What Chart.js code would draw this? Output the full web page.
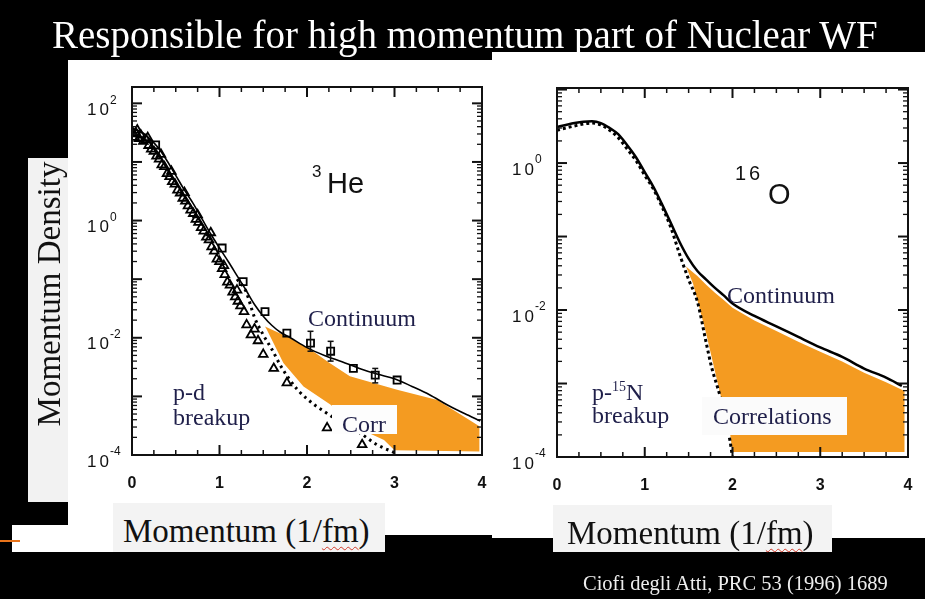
<!DOCTYPE html>
<html>
<head>
<meta charset="utf-8">
<script src="https://cdn.jsdelivr.net/npm/chart.js@4.4.0/dist/chart.umd.min.js"></script>
<style>
  body { margin: 0; background: #000; width: 925px; height: 599px; overflow: hidden; position: relative;
         font-family: "Liberation Serif", "Times New Roman", serif; }
  .abs { position: absolute; white-space: nowrap; line-height: 1; z-index: 3; }
  .lbl { color: #1f1f4a; font-size: 24px; }
  .sans { font-family: "Liberation Sans", Arial, sans-serif; color: #111; }
  .box { position: absolute; z-index: 2; }
  .plot { position: absolute; z-index: 1; }
  canvas { background: #fff; display: block; }
  .wavy { text-decoration: underline wavy #d23a2a; text-decoration-thickness: 1px; text-underline-offset: 4px; }
</style>
</head>
<body>

<div class="abs" style="left:52px; top:15px; font-size:39px; color:#fff;">Responsible for high momentum part of Nuclear WF</div>

<!-- y axis title -->
<div class="box" style="left:28px; top:158px; width:40px; height:344px; background:#f2f2f2;"></div>
<div class="abs" style="left:-101px; top:274px; width:300px; height:40px; line-height:40px; text-align:center;
     font-size:33px; color:#111; transform:rotate(-90deg);">Momentum Density</div>

<!-- small white block + orange mark, bottom left -->
<div class="box" style="left:12px; top:525px; width:101px; height:27px; background:#fff;"></div>
<div class="box" style="left:0px; top:540px; width:20px; height:2px; background:#e8731a;"></div>

<div class="plot" style="left:68px; top:60px;"><canvas id="heChart" width="424" height="475"></canvas></div>
<div class="plot" style="left:492px; top:52px;"><canvas id="oChart" width="433" height="486"></canvas></div>

<!-- x axis titles -->
<div class="box" style="left:113px; top:503px; width:272px; height:49px; background:#f3f3f3;"></div>
<div class="abs" style="left:123px; top:515px; font-size:33px; color:#111;">Momentum (1/<span class="wavy">fm</span>)</div>
<div class="box" style="left:553px; top:505px; width:279px; height:47px; background:#f3f3f3;"></div>
<div class="abs" style="left:567px; top:517px; font-size:33px; color:#111;">Momentum (1/<span class="wavy">fm</span>)</div>

<!-- 3He labels -->
<div class="abs sans" style="left:312px; top:163px; font-size:17px;">3</div>
<div class="abs sans" style="left:327px; top:169px; font-size:29px;">He</div>
<div class="abs lbl" style="left:308px; top:306px;">Continuum</div>
<div class="abs lbl" style="left:173px; top:380px;">p-d</div>
<div class="abs lbl" style="left:173px; top:405px;">breakup</div>
<div class="box" style="left:332px; top:405px; width:65px; height:29px; background:#fdfdfd;"></div>
<div class="abs lbl" style="left:342px; top:412px;">Corr</div>

<!-- 16O labels -->
<div class="abs sans" style="left:735px; top:163px; font-size:20px; letter-spacing:3px;">16</div>
<div class="abs sans" style="left:768px; top:180px; font-size:29px;">O</div>
<div class="abs lbl" style="left:727px; top:283px;">Continuum</div>
<div class="abs lbl" style="left:592px; top:380px;">p-<span style="font-size:14px; position:relative; top:-9px;">15</span>N</div>
<div class="abs lbl" style="left:592px; top:403px;">breakup</div>
<div class="box" style="left:702px; top:397px; width:145px; height:38px; background:#fbfbfb;"></div>
<div class="abs lbl" style="left:713px; top:404px;">Correlations</div>

<div class="abs" style="left:583px; top:573px; font-size:20.5px; color:#eee;">Ciofi degli Atti, PRC 53 (1996) 1689</div>

<script>
// ---- 3He panel ----
var heLineX = [0, 0.1, 0.2, 0.3, 0.4, 0.5, 0.6, 0.7, 0.8, 0.9, 1.0, 1.1, 1.2, 1.3, 1.4, 1.5, 1.6, 1.7, 1.8, 2.0, 2.2, 2.4, 2.6, 2.8, 3.0, 3.2, 3.4, 3.6, 3.8, 3.98];
var heLineY = [37, 33, 25, 17.5, 10.5, 5.9, 3.3, 1.95, 1.07, 0.59, 0.34, 0.2, 0.115, 0.066, 0.037, 0.0234, 0.0162, 0.0123, 0.0102, 0.0068, 0.005, 0.0039, 0.003, 0.0024, 0.002, 0.00148, 0.00107, 0.00072, 0.00051, 0.00038];

var heDotX = [1.2, 1.3, 1.4, 1.5, 1.6, 1.7, 1.8, 1.9, 2.0, 2.1, 2.2, 2.4, 2.6, 2.8, 3.0];
var heDotY = [0.1, 0.063, 0.0224, 0.0112, 0.0063, 0.0033, 0.00195, 0.00126, 0.00091, 0.00069, 0.00055, 0.00035, 0.00024, 0.00015, 0.00011];

var heSquareX = [0.27, 1.03, 1.27, 1.52, 1.77, 2.04, 2.27, 2.53, 2.78, 3.03];
var heSquareY = [19.5, 0.34, 0.091, 0.028, 0.012, 0.0081, 0.0059, 0.0030, 0.0023, 0.0019];
var heErrLow  = [null, null, null, null, null, 0.0059, 0.0040, null, 0.0017, null];
var heErrHigh = [null, null, null, null, null, 0.0129, 0.0087, null, 0.0030, null];

var heTriX = [0.01, 0.03, 0.05, 0.08, 0.10, 0.13, 0.16, 0.19, 0.22, 0.25, 0.28, 0.31, 0.34, 0.37, 0.40, 0.43, 0.46, 0.49,
              0.52, 0.55, 0.58, 0.61, 0.64, 0.67, 0.70, 0.73, 0.76, 0.79, 0.82, 0.85, 0.88, 0.91, 0.94, 0.97, 1.00, 1.03,
              1.06, 1.09, 1.12, 1.15, 1.18, 1.21, 1.24, 1.28, 1.31, 1.36, 1.40, 1.44, 1.50, 1.62, 1.77, 2.23, 2.63,
              0.06, 0.18, 0.33, 0.45, 0.60, 0.75, 0.90, 1.05, 1.20];
var heTriY = [31.6, 26.3, 30.2, 25.1, 28.8, 22.4, 24.0, 19.1, 16.6, 15.1, 12.6, 11.2, 8.9, 8.3, 6.3, 5.6, 4.6, 4.2,
              3.3, 2.95, 2.4, 2.14, 1.78, 1.51, 1.32, 1.05, 0.93, 0.76, 0.66, 0.52, 0.47, 0.355, 0.30, 0.22, 0.20, 0.151,
              0.12, 0.089, 0.079, 0.060, 0.050, 0.042, 0.035, 0.028, 0.0166, 0.0112, 0.0141, 0.0089, 0.0052, 0.0030, 0.0017, 0.00029, 0.00015,
              35, 26, 13.5, 6.9, 3.0, 1.25, 0.62, 0.17, 0.065];

// correlation region (closed outline)
var heCorrX = [1.52, 1.77, 2.04, 2.25, 2.49, 3.03, 3.49, 3.97, 3.97, 3.0, 2.88, 2.6, 2.27, 1.96, 1.73, 1.54];
var heCorrY = [0.0155, 0.0105, 0.0063, 0.0038, 0.0022, 0.0013, 0.00087, 0.00031, 0.000115, 0.00012, 0.00018, 0.00028, 0.00072, 0.00148, 0.0037, 0.0138];

// ---- 16O panel ----
var oLineX = [0, 0.1, 0.2, 0.3, 0.4, 0.5, 0.6, 0.7, 0.8, 0.9, 1.0, 1.1, 1.2, 1.3, 1.4, 1.5, 1.6, 1.7, 1.8, 1.9, 2.0, 2.25, 2.5, 2.75, 3.0, 3.25, 3.5, 3.75, 3.93];
var oLineY = [3.1, 3.3, 3.5, 3.65, 3.7, 3.5, 3.0, 2.45, 1.75, 1.2, 0.75, 0.47, 0.27, 0.15, 0.083, 0.05, 0.034, 0.026, 0.02, 0.0158, 0.0123, 0.0083, 0.006, 0.0043, 0.0031, 0.0023, 0.0016, 0.0012, 0.00093];

var oDotX = [0, 0.1, 0.2, 0.3, 0.4, 0.5, 0.6, 0.7, 0.8, 0.9, 1.0, 1.1, 1.2, 1.3, 1.4, 1.5, 1.6, 1.7, 1.76, 1.86, 1.97, 2.0];
var oDotY = [2.8, 3.0, 3.2, 3.4, 3.5, 3.3, 2.8, 2.2, 1.55, 1.08, 0.68, 0.44, 0.25, 0.13, 0.056, 0.026, 0.013, 0.0036, 0.0017, 0.00066, 0.00017, 0.0001];

var oCorrX = [1.47, 1.6, 1.7, 1.8, 1.9, 2.0, 2.25, 2.5, 2.75, 3.0, 3.25, 3.5, 3.75, 3.96, 3.96, 2.0, 1.97, 1.85, 1.7, 1.55];
var oCorrY = [0.039, 0.029, 0.022, 0.0172, 0.0137, 0.0107, 0.0072, 0.0052, 0.0037, 0.0027, 0.002, 0.0014, 0.00104, 0.00079, 0.000117, 0.000117, 0.00022, 0.00081, 0.0048, 0.023];

// axes
var xTicks = [0, 1, 2, 3, 4];
var xMinor = [0.25, 0.5, 0.75, 1.25, 1.5, 1.75, 2.25, 2.5, 2.75, 3.25, 3.5, 3.75];
var yMinorMult = [2, 3, 4, 5, 6, 7, 8, 9];
var heDecades = [1e-4, 1e-3, 1e-2, 1e-1, 1, 10, 100];
var oDecades = [1e-4, 1e-3, 1e-2, 1e-1, 1, 10];
var heTickVals = [100, 1, 1e-2, 1e-4];
var heTickExp = ['2', '0', '-2', '-4'];
var oTickVals = [1, 1e-2, 1e-4];
var oTickExp = ['0', '-2', '-4'];

var orange = '#f49b21';

function pts(xs, ys) {
  return xs.map(function(x, i) { return {x: x, y: ys[i]}; });
}

// frame, inward ticks, tick labels and error bars
var frameTicks = {
  id: 'frameTicks',
  afterDatasetsDraw: function(chart, args, opts) {
    var ctx = chart.ctx, a = chart.chartArea;
    var xs = chart.scales.x, ys = chart.scales.y;
    function seg(x1, y1, x2, y2) { ctx.beginPath(); ctx.moveTo(x1, y1); ctx.lineTo(x2, y2); ctx.stroke(); }
    ctx.save();
    ctx.strokeStyle = '#111';

    // error bars
    if (opts.errX) {
      ctx.lineWidth = 1.5;
      opts.errX.forEach(function(x, i) {
        if (opts.errLo[i] == null) return;
        var px = xs.getPixelForValue(x);
        var p1 = ys.getPixelForValue(opts.errLo[i]), p2 = ys.getPixelForValue(opts.errHi[i]);
        seg(px, p1, px, p2);
        seg(px - 3, p2, px + 3, p2);
        seg(px - 3, p1, px + 3, p1);
      });
    }

    // x ticks
    ctx.lineWidth = 1.5;
    xMinor.forEach(function(v) {
      var p = xs.getPixelForValue(v);
      seg(p, a.bottom, p, a.bottom - 5); seg(p, a.top, p, a.top + 5);
    });
    ctx.lineWidth = 2;
    xTicks.forEach(function(v) {
      var p = xs.getPixelForValue(v);
      seg(p, a.bottom, p, a.bottom - 10); seg(p, a.top, p, a.top + 10);
    });

    // y ticks
    opts.decades.forEach(function(d) {
      ctx.lineWidth = 1.3;
      yMinorMult.forEach(function(m) {
        var v = m * d;
        if (v >= ys.max) return;
        var p = ys.getPixelForValue(v);
        seg(a.left, p, a.left + 5, p); seg(a.right, p, a.right - 5, p);
      });
      ctx.lineWidth = 2;
      var p = ys.getPixelForValue(d);
      if (d < ys.max) { seg(a.left, p, a.left + 10, p); seg(a.right, p, a.right - 10, p); }
    });

    // frame
    ctx.lineWidth = 2;
    ctx.strokeRect(a.left, a.top, a.right - a.left, a.bottom - a.top);

    // labels
    ctx.fillStyle = '#111';
    ctx.font = 'bold 16px "Liberation Sans", Arial, sans-serif';
    ctx.textAlign = 'center';
    ctx.textBaseline = 'middle';
    xTicks.forEach(function(v) { ctx.fillText(String(v), xs.getPixelForValue(v), a.bottom + 29); });

    opts.tickVals.forEach(function(v, i) {
      var p = ys.getPixelForValue(v);
      ctx.font = '17px "Liberation Sans", Arial, sans-serif';
      ctx.textAlign = 'right';
      ctx.letterSpacing = '3px';
      ctx.fillText('10', a.left - 20, p + 7);
      ctx.letterSpacing = '0px';
      ctx.font = '12px "Liberation Sans", Arial, sans-serif';
      ctx.textAlign = 'left';
      ctx.fillText(opts.tickExp[i], a.left - 22, p - 3);
    });
    ctx.restore();
  }
};

function makeChart(id, datasets, yMax, pad, extra) {
  return new Chart(document.getElementById(id), {
    type: 'line',
    data: {datasets: datasets},
    plugins: [frameTicks],
    options: {
      responsive: false,
      animation: false,
      layout: {padding: pad},
      plugins: {legend: {display: false}, tooltip: {enabled: false}, frameTicks: extra},
      scales: {
        x: {type: 'linear', min: 0, max: 4, display: false},
        y: {type: 'logarithmic', min: 1e-4, max: yMax, display: false}
      },
      elements: {point: {radius: 0}}
    }
  });
}

makeChart('heChart', [
  {data: pts(heSquareX, heSquareY), showLine: false, pointStyle: 'rect', pointRadius: 5,
   pointBorderColor: '#000', pointBackgroundColor: 'rgba(0,0,0,0)', pointBorderWidth: 1.8},
  {data: pts(heTriX, heTriY), showLine: false, pointStyle: 'triangle', pointRadius: 5,
   pointBorderColor: '#000', pointBackgroundColor: 'rgba(0,0,0,0)', pointBorderWidth: 1.8},
  {data: pts(heLineX, heLineY), borderColor: '#000', borderWidth: 1.6, cubicInterpolationMode: 'monotone', fill: false},
  {data: pts(heDotX, heDotY), borderColor: '#000', borderWidth: 3, borderDash: [2.5, 4], cubicInterpolationMode: 'monotone', fill: false},
  {data: pts(heCorrX, heCorrY), borderWidth: 0, borderColor: orange, backgroundColor: orange, fill: 'shape', tension: 0}
], 190, {left: 64, right: 10, top: 27, bottom: 80},
  {decades: heDecades, tickVals: heTickVals, tickExp: heTickExp, errX: heSquareX, errLo: heErrLow, errHi: heErrHigh});

makeChart('oChart', [
  {data: pts(oLineX, oLineY), borderColor: '#000', borderWidth: 2.5, cubicInterpolationMode: 'monotone', fill: false},
  {data: pts(oDotX, oDotY), borderColor: '#000', borderWidth: 3, borderDash: [3, 3], cubicInterpolationMode: 'monotone', fill: false},
  {data: pts(oCorrX, oCorrY), borderWidth: 0, borderColor: orange, backgroundColor: orange, fill: 'shape', tension: 0}
], 10.5, {left: 65, right: 17, top: 36, bottom: 81},
  {decades: oDecades, tickVals: oTickVals, tickExp: oTickExp});
</script>
</body>
</html>
